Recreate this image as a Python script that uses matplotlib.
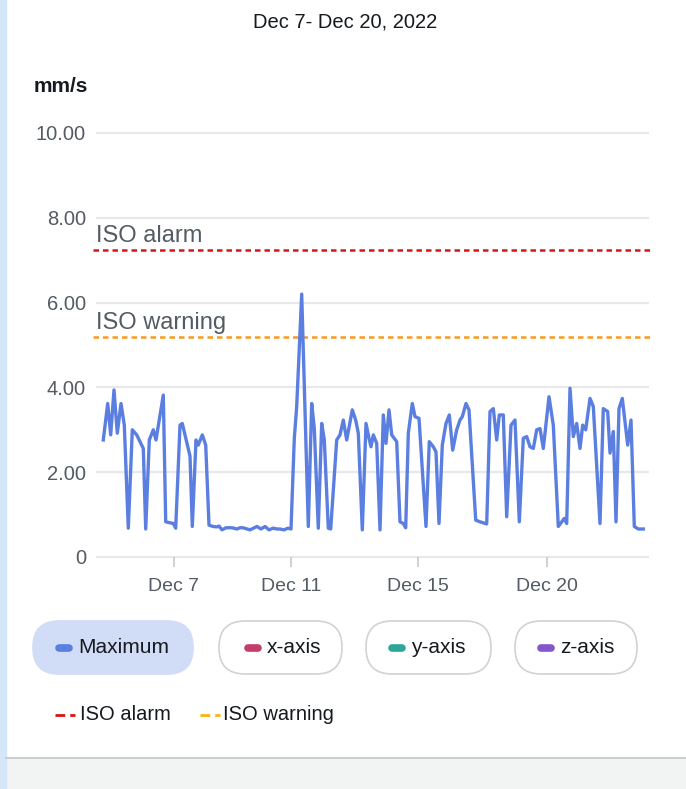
import matplotlib
matplotlib.use('Agg')
import matplotlib.pyplot as plt
from matplotlib.patches import FancyBboxPatch, Rectangle

plt.rcParams['font.family'] = ['Liberation Sans', 'DejaVu Sans']

W, H = 686, 789

title = "Dec 7- Dec 20, 2022"
unit_label = "mm/s"

# time position along the window (arbitrary units) and maximum velocity, mm/s
t = [6.3, 10.7, 13.7, 17, 20.3, 24, 27.3, 31.3, 35.3, 39.7, 46.3, 48.7, 52.3, 56.3, 59,
     66.3, 68.7, 76.3, 78.7, 83, 85.3, 93, 95.3, 99, 101.3, 105.3, 108.7, 112,
     116, 120, 122, 125, 129, 135, 140, 143, 146, 153, 160, 164, 168, 172, 176, 180, 183,
     187, 191, 194, 197.3, 199.7, 204.7, 211.3, 214.7, 217.3, 221.3, 224.7, 227.3,
     231.3, 233.7, 239.7, 243, 246.3, 249.7, 255.3, 258.7, 261.3, 265.3, 269, 272,
     274, 276.3, 279.7, 283, 286.3, 289, 292, 294.7, 299.7, 303, 306.3, 308.7, 311.3,
     315.3, 318, 322, 329, 332.3, 336.3, 339, 342, 345.3, 349, 352.3, 355.7, 359.7,
     363, 365.3, 369, 372, 378.7, 383, 389.7, 393, 396.3, 399.7, 402.3, 406.3, 409.7,
     414, 418, 422.3, 426.3, 429.7, 433, 436.3, 439.7, 443, 446.3, 452, 456.3, 461.3,
     464.7, 467.3, 469.7, 473, 476.3, 479.7, 483, 485.7, 488.7, 493, 496.3, 503,
     506.3, 510.7, 513, 516.3, 519, 522, 525.3, 530.7, 534, 537.3, 541.3, 546.3]
max_vals = [2.76, 3.62, 2.88, 3.94, 2.92, 3.62, 3.11, 0.68, 3.0, 2.88, 2.56, 0.66, 2.76, 3.0, 2.76,
            3.82, 0.83, 0.79, 0.68, 3.11, 3.15, 2.38, 0.72, 2.76, 2.64, 2.88, 2.64, 0.75,
            0.72, 0.71, 0.73, 0.64, 0.69, 0.69, 0.66, 0.69, 0.69, 0.64, 0.72, 0.66, 0.72, 0.64, 0.68, 0.66, 0.66,
            0.64, 0.68, 0.66, 2.8, 3.55, 6.2, 0.72, 3.62, 3.03, 0.68, 3.15, 2.76,
            0.68, 0.66, 2.76, 2.88, 3.23, 2.76, 3.47, 3.23, 2.92, 0.64, 3.15, 2.8,
            2.6, 2.88, 2.68, 0.64, 3.35, 2.68, 3.47, 2.88, 2.72, 0.83, 0.79, 0.69, 2.92,
            3.62, 3.31, 3.27, 0.72, 2.72, 2.6, 2.48, 0.79, 2.64, 3.15, 3.35, 2.52, 3.0,
            3.23, 3.31, 3.62, 3.47, 0.87, 0.83, 0.78, 3.43, 3.5, 2.76, 3.35, 3.35, 0.95,
            3.11, 3.23, 0.83, 2.8, 2.84, 2.6, 2.56, 3.0, 3.03, 2.56, 3.78, 3.11, 0.72,
            0.83, 0.91, 0.79, 3.98, 2.84, 3.15, 2.56, 3.11, 3.0, 3.74, 3.55, 0.79,
            3.5, 3.43, 2.45, 2.96, 0.83, 3.5, 3.74, 2.64, 3.23, 0.72, 0.66, 0.66]

iso_alarm = 7.24
iso_warning = 5.19

x_ticks = [77, 194, 321, 450]
x_labels = ["Dec 7", "Dec 11", "Dec 15", "Dec 20"]
y_ticks = [0, 2, 4, 6, 8, 10]
y_labels = ["0", "2.00", "4.00", "6.00", "8.00", "10.00"]

series = ["Maximum", "x-axis", "y-axis", "z-axis"]
series_colors = ["#5b7fe1", "#c33d69", "#2ea597", "#8456ce"]

line_blue = "#5b7fe1"
alarm_red = "#d91515"
warn_orange = "#f89a1c"
grey_text = "#545b64"
grid_col = "#e6e9eb"

fig = plt.figure(figsize=(W / 100, H / 100), dpi=100)
fig.patch.set_facecolor('white')

ax = fig.add_axes([97 / W, 1 - 557 / H, 551 / W, 424 / H])
ax.set_xlim(0, 551)
ax.set_ylim(0, 10)
for s in ax.spines.values():
    s.set_visible(False)
ax.set_facecolor('none')

for yv in y_ticks:
    ax.axhline(yv, color=grid_col, lw=1.6, zorder=1, clip_on=False)

ax.set_yticks(y_ticks)
ax.set_yticklabels(y_labels)
ax.tick_params(axis='y', length=0, pad=8, labelsize=14.5, labelcolor=grey_text)
ax.set_xticks(x_ticks)
ax.set_xticklabels(x_labels)
ax.tick_params(axis='x', length=7, width=1.2, color='#c6cacd', pad=8,
               labelsize=14, labelcolor=grey_text)

ax.plot(t, max_vals, color=line_blue, lw=2.4, zorder=3, solid_joinstyle='round')

ax.axhline(iso_alarm, xmin=-0.008, xmax=1.008, color=alarm_red, lw=1.8,
           ls=(0, (2.2, 1.6)), zorder=2, clip_on=False)
ax.axhline(iso_warning, xmin=-0.008, xmax=1.008, color=warn_orange, lw=1.8,
           ls=(0, (2.2, 1.6)), zorder=2, clip_on=False)
ax.text(-1, iso_alarm + 0.06, "ISO alarm", fontsize=17, color=grey_text, va='bottom', ha='left')
ax.text(-1, iso_warning + 0.06, "ISO warning", fontsize=17, color=grey_text, va='bottom', ha='left')

# overlay in pixel coordinates for the page furniture and legend
ov = fig.add_axes([0, 0, 1, 1])
ov.set_xlim(0, W)
ov.set_ylim(H, 0)
ov.axis('off')
ov.set_zorder(-1)

ov.add_patch(Rectangle((0, 757), W, H - 757, color='#f2f3f3', zorder=0))
ov.plot([6, W], [757.5, 757.5], color='#c6c6cd', lw=1.2)
ov.add_patch(Rectangle((0, 0), 6, H, color='#d4e6f8', zorder=1))

fig.text(345 / W, 1 - 22 / H, title, ha='center', va='center', fontsize=14.5, color='#16191f')
fig.text(34 / W, 1 - 86 / H, unit_label, ha='left', va='center', fontsize=15,
         fontweight='bold', color='#16191f')

pill_x = [33, 219, 366, 515]
pill_w = [160, 123, 125, 122]
mark_x = [55, 244, 388, 537]
for i, name in enumerate(series):
    active = i == 0
    ov.add_patch(FancyBboxPatch((pill_x[i], 621), pill_w[i], 53,
                                boxstyle="round,pad=0,rounding_size=26",
                                fc='#d1dcf6' if active else 'white',
                                ec='#d1dcf6' if active else '#cfd3d6', lw=1.2, zorder=2))
    ov.plot([mark_x[i] + 3.5, mark_x[i] + 14], [647.5, 647.5], color=series_colors[i],
            lw=5.5, solid_capstyle='round', zorder=3)
    fig.text((mark_x[i] + 23) / W, 1 - 647.5 / H, name, ha='left', va='center',
             fontsize=15, color='#16191f')

ov.plot([55, 75], [715, 715], color=alarm_red, lw=2, ls=(0, (3.5, 1.8)), zorder=3)
fig.text(80 / W, 1 - 715 / H, "ISO alarm", ha='left', va='center', fontsize=14.5, color='#16191f')
ov.plot([200, 220], [715, 715], color='#fbb40f', lw=2, ls=(0, (3.5, 1.8)), zorder=3)
fig.text(223 / W, 1 - 715 / H, "ISO warning", ha='left', va='center', fontsize=14.5, color='#16191f')

fig.savefig('out.png', dpi=100)
